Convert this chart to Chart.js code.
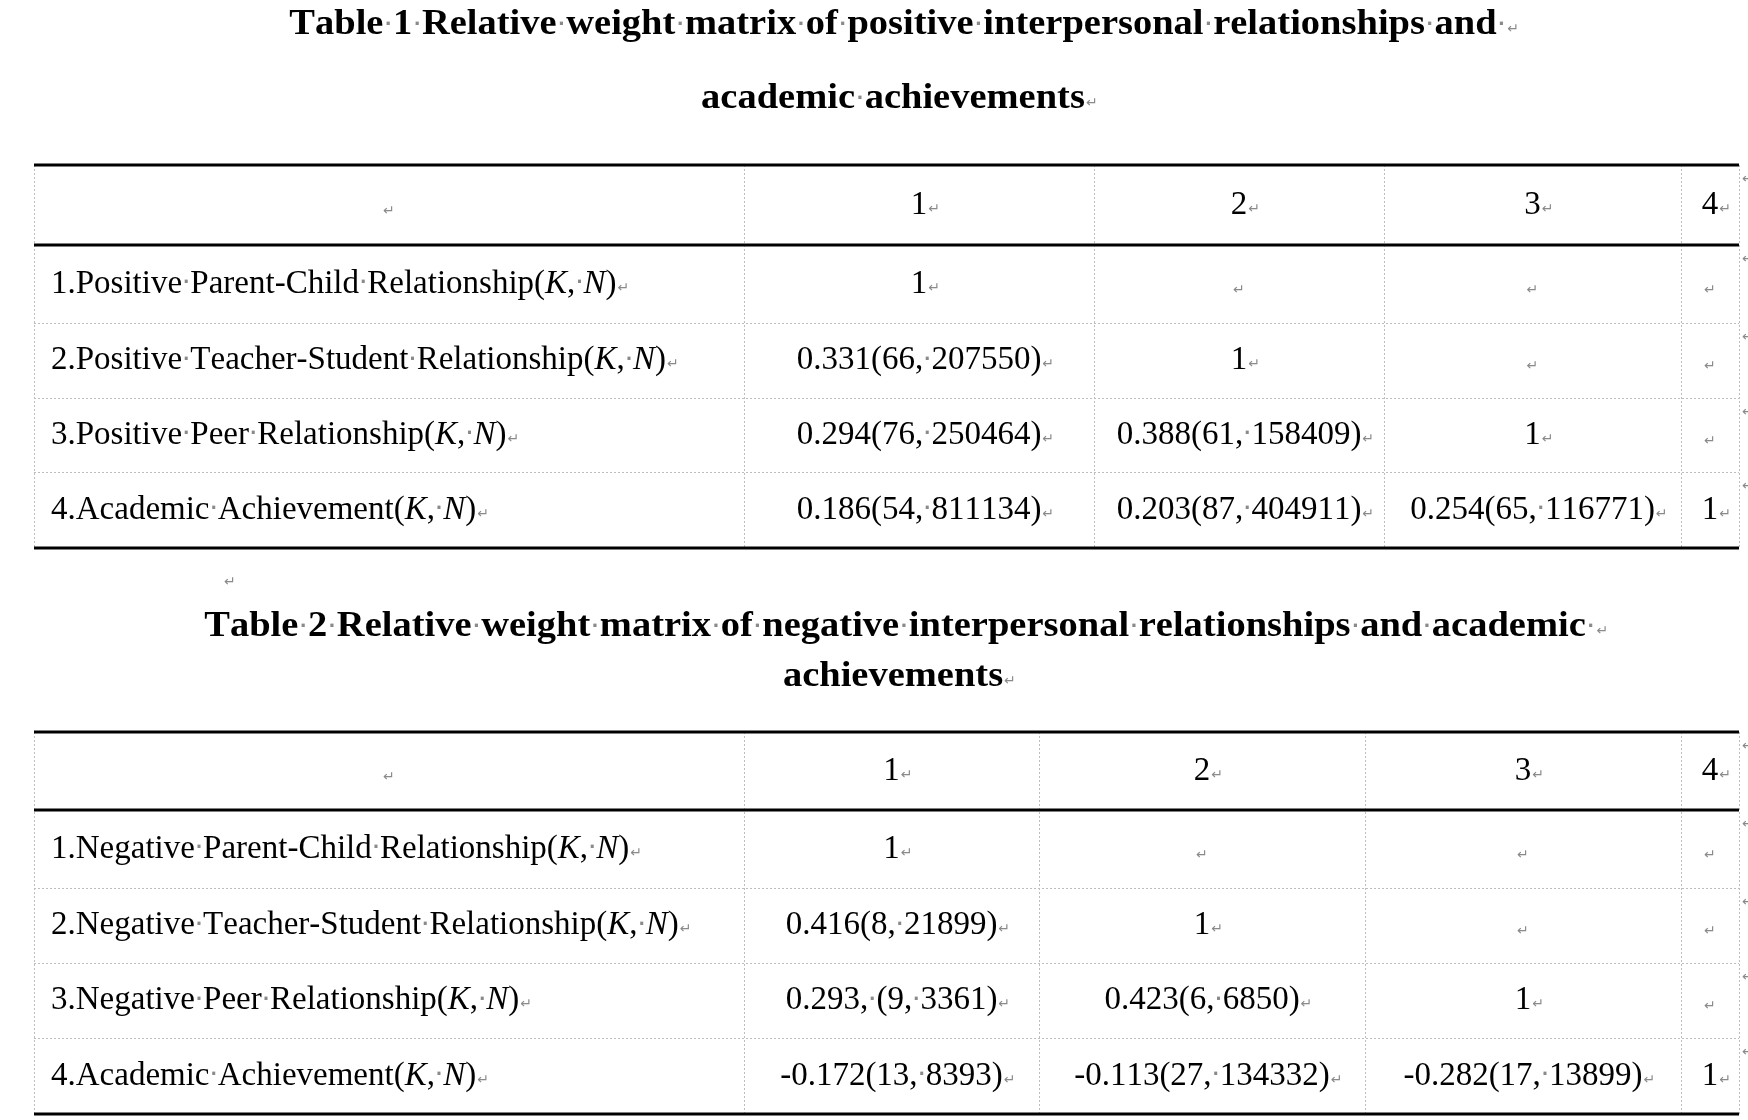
<!DOCTYPE html>
<html><head><meta charset="utf-8">
<script src="https://cdn.jsdelivr.net/npm/chart.js@4"></script>
<style>html,body{margin:0;padding:0;background:#fff}canvas{display:block}</style>
</head><body>
<canvas id="c" width="1748" height="1120"></canvas>
<script>
const title1 = ["Table 1 Relative weight matrix of positive interpersonal relationships and ", "academic achievements"];
const title2 = ["Table 2 Relative weight matrix of negative interpersonal relationships and academic ", "achievements"];
const colHeaders = ["1", "2", "3", "4"];
const rows1 = ["1.Positive Parent-Child Relationship(*K*, *N*)", "2.Positive Teacher-Student Relationship(*K*, *N*)", "3.Positive Peer Relationship(*K*, *N*)", "4.Academic Achievement(*K*, *N*)"];
const cells1 = [
  ["1", "", "", ""],
  ["0.331(66, 207550)", "1", "", ""],
  ["0.294(76, 250464)", "0.388(61, 158409)", "1", ""],
  ["0.186(54, 811134)", "0.203(87, 404911)", "0.254(65, 116771)", "1"]];
const rows2 = ["1.Negative Parent-Child Relationship(*K*, *N*)", "2.Negative Teacher-Student Relationship(*K*, *N*)", "3.Negative Peer Relationship(*K*, *N*)", "4.Academic Achievement(*K*, *N*)"];
const cells2 = [
  ["1", "", "", ""],
  ["0.416(8, 21899)", "1", "", ""],
  ["0.293, (9, 3361)", "0.423(6, 6850)", "1", ""],
  ["-0.172(13, 8393)", "-0.113(27, 134332)", "-0.282(17, 13899)", "1"]];
const t1Cols = [34, 744, 1094, 1384, 1681, 1739];
const t1Rows = [165, 245, 323, 398, 472, 548];
const t2Cols = [34, 744, 1039, 1365, 1681, 1739];
const t2Rows = [732, 810, 888, 963, 1038, 1114];

const BODY = 33, TITLE = 35, THS = 1.1, BHS = 1.0;
function segs(str){ const out=[]; str.split('*').forEach((p,i)=>{ if(p) out.push({t:p,it:i%2===1}); }); return out; }
function fnt(it,bold,size){ return (it?'italic ':'')+(bold?'bold ':'')+size+'px "Liberation Serif"'; }
function measureRich(ctx, str, size, bold, hs){
  let w=0;
  for(const s of segs(str)) for(const ch of s.t){ ctx.font=fnt(s.it,bold,size); w+=ctx.measureText(ch===' '?'\u00a0':ch).width*hs; }
  return w;
}
function drawRich(ctx, str, x, y, size, bold, mark, hs){
  hs=hs||1;
  ctx.textBaseline='middle'; ctx.textAlign='left';
  for(const s of segs(str)){
    for(const ch of s.t){
      ctx.font=fnt(s.it,bold,size);
      if(ch===' '){
        const w=ctx.measureText('\u00a0').width*hs;
        ctx.fillStyle='#8a8a8a'; ctx.font='bold '+Math.round(size*0.5)+'px "DejaVu Sans"';
        ctx.textAlign='center'; ctx.fillText('\u00b7', x+w/2, y); ctx.textAlign='left';
        x+=w;
      } else {
        ctx.fillStyle='#000';
        ctx.save(); ctx.translate(x,y); ctx.scale(hs,1); ctx.fillText(ch,0,0); ctx.restore();
        x+=ctx.measureText(ch).width*hs;
      }
    }
  }
  if(mark) drawMark(ctx,x+1,y+4,BODY);
  return x;
}
function drawMark(ctx,x,y,size){
  ctx.fillStyle='#8a8a8a'; ctx.font=Math.round(size*0.42)+'px "DejaVu Sans"';
  ctx.textBaseline='middle'; ctx.textAlign='left'; ctx.fillText('\u21b5',x,y);
}
function center(ctx,str,cx,y,size,bold,hs){
  hs=hs||1;
  const w=measureRich(ctx,str.replace(/ $/,''),size,bold,hs); return drawRich(ctx,str,cx-w/2,y,size,bold,true,hs);
}

const tablePlugin={id:'tables',afterDraw(chart){
  const ctx=chart.ctx, X=v=>chart.scales.x.getPixelForValue(v), Y=v=>chart.scales.y.getPixelForValue(v);
  ctx.save();
  function table(cols,rows,labels,cells){
    ctx.strokeStyle='#bdbdbd'; ctx.lineWidth=1; ctx.setLineDash([2,2]);
    for(let i=0;i<cols.length;i++){ctx.beginPath();ctx.moveTo(X(cols[i])+0.5,Y(rows[0]));ctx.lineTo(X(cols[i])+0.5,Y(rows[rows.length-1]));ctx.stroke();}
    for(let j=2;j<rows.length-1;j++){ctx.beginPath();ctx.moveTo(X(cols[0]),Y(rows[j])+0.5);ctx.lineTo(X(cols[cols.length-1]),Y(rows[j])+0.5);ctx.stroke();}
    ctx.setLineDash([]); ctx.strokeStyle='#000'; ctx.lineWidth=3;
    [0,1,rows.length-1].forEach(j=>{ctx.beginPath();ctx.moveTo(X(cols[0]),Y(rows[j]));ctx.lineTo(X(cols[cols.length-1]),Y(rows[j]));ctx.stroke();});
    const cy=j=>(Y(rows[j])+Y(rows[j+1]))/2;
    const cx=i=>(X(cols[i])+X(cols[i+1]))/2;
    drawMark(ctx,cx(0)-6,cy(0)+6,BODY);
    colHeaders.forEach((h,i)=>center(ctx,h,cx(i+1),cy(0),BODY,false,BHS));
    labels.forEach((l,r)=>{
      drawRich(ctx,l,X(cols[0])+17,cy(r+1),BODY,false,true,BHS);
      cells[r].forEach((v,c)=>{ if(v) center(ctx,v,cx(c+1),cy(r+1),BODY,false,BHS); else drawMark(ctx,cx(c+1)-6,cy(r+1)+6,BODY); });
    });
    for(let j=0;j<rows.length-1;j++) drawMark(ctx,X(cols[cols.length-1])+3,Y(rows[j])+14,BODY);
  }
  center(ctx,title1[0],X(893),Y(25),TITLE,true,THS);
  center(ctx,title1[1],X(893),Y(99),TITLE,true,THS);
  table(t1Cols,t1Rows,rows1,cells1);
  drawMark(ctx,X(224),Y(582),BODY);
  center(ctx,title2[0],X(895),Y(627),TITLE,true,THS);
  center(ctx,title2[1],X(893),Y(677),TITLE,true,THS);
  table(t2Cols,t2Rows,rows2,cells2);
  ctx.restore();
}};

new Chart(document.getElementById('c'),{
  type:'scatter',
  data:{datasets:[{data:[],pointRadius:0}]},
  options:{responsive:false,animation:false,events:[],
    layout:{padding:0},
    plugins:{legend:{display:false},tooltip:{enabled:false}},
    scales:{x:{type:'linear',min:0,max:1748,display:false},y:{type:'linear',min:0,max:1120,reverse:true,display:false}}},
  plugins:[tablePlugin]
});
</script>
</body></html>
